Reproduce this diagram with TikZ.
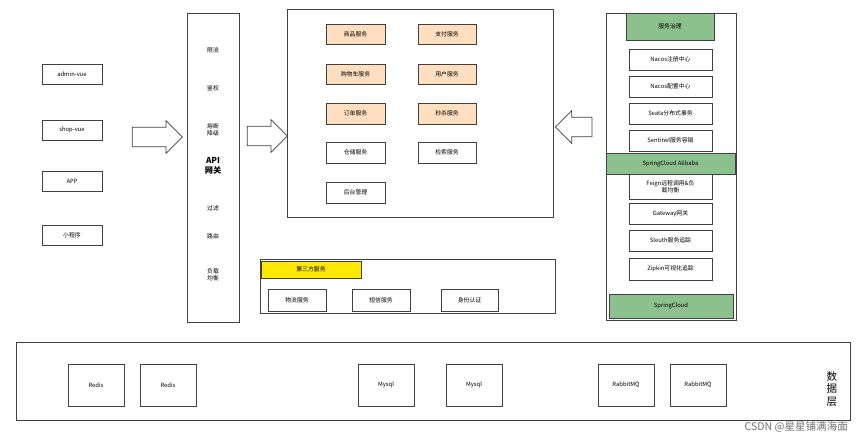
\documentclass[tikz,border=0pt]{standalone}
\usepackage{fontspec}
\setmainfont{Noto Sans CJK SC}
\usetikzlibrary{shapes.arrows}
\begin{document}
\begin{tikzpicture}[x=0.03cm,y=-0.03cm,
 box/.style={draw=black!75,line width=0.6pt,fill=white,inner sep=0,font=\fontsize{5}{6}\selectfont,align=center},
 org/.style={box,fill=orange!25},
 grn/.style={box,fill=green!45!black!45!white},
 ylw/.style={box,fill=yellow!90!orange},
 lbl/.style={font=\fontsize{5}{6}\selectfont,align=center},
 big/.style={single arrow,draw=black!75,line width=0.6pt,fill=white,minimum height=#1,single arrow head extend=0.2cm,inner sep=0.28cm}]
\useasboundingbox (0,0) rectangle (865,437);
\fill[white] (0,0) rectangle (865,437);
\newcommand\bx[6]{\node[#1,minimum width={(#4-#3)*0.03cm},minimum height={(#6-#5)*0.03cm}] (#2) at ({(#3+#4)/2},{(#5+#6)/2}) {};}
% left clients
\bx{box}{c1}{42}{102}{64}{84}\node[lbl] at (c1) {admin-vue};
\bx{box}{c2}{42}{102}{120}{140}\node[lbl] at (c2) {shop-vue};
\bx{box}{c3}{42}{102}{171}{191}\node[lbl] at (c3) {APP};
\bx{box}{c4}{42}{102}{225}{245}\node[lbl] at (c4) {小程序};
% gateway
\bx{box}{gw}{187}{239}{13}{322}
\node[lbl] (g1) at (213,50) {限流};
\node[lbl] (g2) at (213,88) {鉴权};
\node[lbl] (g3) at (213,130) {熔断\\降级};
\node[font=\fontsize{7}{8}\selectfont\bfseries,align=center] (g4) at (213,166) {API\\网关};
\node[lbl] (g5) at (213,208) {过滤};
\node[lbl] (g6) at (213,236) {路由};
\node[lbl] (g7) at (213,275) {负载\\均衡};
% services
\bx{box}{sv}{287}{553}{9}{217}
\bx{org}{s1}{326}{385}{24}{44}\node[lbl] at (s1) {商品服务};
\bx{org}{s2}{418}{476}{24}{44}\node[lbl] at (s2) {支付服务};
\bx{org}{s3}{326}{385}{64}{84}\node[lbl] at (s3) {购物车服务};
\bx{org}{s4}{418}{476}{64}{84}\node[lbl] at (s4) {用户服务};
\bx{org}{s5}{326}{385}{103}{124}\node[lbl] at (s5) {订单服务};
\bx{org}{s6}{418}{476}{103}{124}\node[lbl] at (s6) {秒杀服务};
\bx{box}{s7}{326}{385}{142}{163}\node[lbl] at (s7) {仓储服务};
\bx{box}{s8}{418}{476}{142}{163}\node[lbl] at (s8) {检索服务};
\bx{box}{s9}{326}{385}{182}{203}\node[lbl] at (s9) {后台管理};
% third party
\bx{box}{tp}{260}{555}{259}{313}
\bx{ylw}{tph}{261}{361}{261}{278}\node[lbl] at (tph) {第三方服务};
\bx{box}{t1}{268}{326}{289}{311}\node[lbl] at (t1) {物流服务};
\bx{box}{t2}{352}{410}{289}{311}\node[lbl] at (t2) {短信服务};
\bx{box}{t3}{441}{498}{289}{311}\node[lbl] at (t3) {身份认证};
% right
\bx{box}{rt}{606}{736}{13}{320}
\bx{grn}{r0}{626}{714}{13}{40}\node[lbl] at (r0) {服务治理};
\bx{box}{r1}{629}{712}{49}{70}\node[lbl] at (r1) {Nacos注册中心};
\bx{box}{r2}{629}{712}{76}{97}\node[lbl] at (r2) {Nacos配置中心};
\bx{box}{r3}{629}{712}{103}{124}\node[lbl] at (r3) {Seata分布式事务};
\bx{box}{r4}{629}{712}{130}{151}\node[lbl] at (r4) {Sentinel服务容错};
\bx{box}{r6}{629}{712}{174}{199}\node[lbl] at (r6) {Feign远程调用\&负\\载均衡};
\bx{grn}{r5}{606}{735}{153}{174}\node[lbl] at (r5) {SpringCloud Alibaba};
\bx{box}{r7}{629}{712}{203}{224}\node[lbl] at (r7) {Gateway网关};
\bx{box}{r8}{629}{712}{230}{251}\node[lbl] at (r8) {Sleuth服务追踪};
\bx{box}{r9}{629}{712}{258}{280}\node[lbl] at (r9) {Zipkin可视化追踪};
\bx{grn}{r10}{609}{733}{294}{318}\node[lbl] at (r10) {SpringCloud};
% data layer
\bx{box}{db}{16}{850}{342}{420}
\bx{box}{d1}{68}{124}{364}{406}\node[lbl] at (d1) {Redis};
\bx{box}{d2}{140}{196}{364}{406}\node[lbl] at (d2) {Redis};
\bx{box}{d3}{358}{414}{364}{406}\node[lbl] at (d3) {Mysql};
\bx{box}{d4}{446}{502}{364}{406}\node[lbl] at (d4) {Mysql};
\bx{box}{d5}{598}{654}{364}{406}\node[lbl] at (d5) {RabbitMQ};
\bx{box}{d6}{670}{726}{364}{406}\node[lbl] at (d6) {RabbitMQ};
\node[font=\fontsize{9}{11}\selectfont,align=center] (dl) at (832,389) {数\\据\\层};
% big arrows
\node[big=1.5cm] (a1) at (152.5,137) {};
\node[big=1.2cm] (a2) at (262.5,136) {};
\node[big=1.1cm,shape border rotate=180] (a3) at (578.5,127) {};
% watermark
\node[font=\fontsize{9}{11}\selectfont,text=black!55,anchor=east] (wm) at (852,427) {CSDN @星星铺满海面};
\end{tikzpicture}
\end{document}
